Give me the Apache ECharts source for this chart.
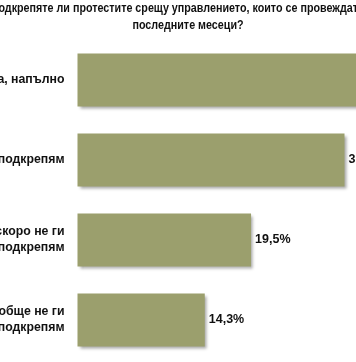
<!DOCTYPE html>
<html>
<head>
<meta charset="utf-8">
<script src="https://cdn.jsdelivr.net/npm/echarts@6/dist/echarts.min.js"></script>
<style>
html,body{margin:0;padding:0;background:#fff;}
#chart{width:356px;height:362px;}
</style>
</head>
<body>
<div id="chart"></div>
<script>
const titleLines = ["Подкрепяте ли протестите срещу управлението, които се провеждат през", "последните месеци?"];
const categories = ["Да, напълно", "По-скоро подкрепям", "По-скоро не ги\nподкрепям", "Изобще не ги\nподкрепям"];
const values = [36.1, 30.0, 19.5, 14.3];

const FONT = '"Liberation Sans", Arial, sans-serif';
const chart = echarts.init(document.getElementById('chart'));
chart.setOption({
  animation: false,
  backgroundColor: '#ffffff',
  graphic: [{
    type: 'text', x: 188, y: 0, scaleX: 0.795,
    style: {
      text: titleLines.join('\n'),
      textAlign: 'center',
      fontSize: 13.5,
      fontWeight: 'bold',
      fontFamily: FONT,
      lineHeight: 17,
      fill: '#111111'
    }
  }],
  grid: { left: 77.5, right: -77.5, top: 40, bottom: 2, containLabel: false, outerBoundsMode: 'none' },
  xAxis: {
    type: 'value', min: 0, max: 40, show: false
  },
  yAxis: {
    type: 'category', data: categories, inverse: true,
    axisLine: { show: false }, axisTick: { show: false }, splitLine: { show: false },
    axisLabel: {
      margin: 13, color: '#111111', fontFamily: FONT, fontWeight: 'bold', fontSize: 12.3,
      lineHeight: 16, align: 'right'
    }
  },
  series: [{
    type: 'bar', data: values, barWidth: 53,
    itemStyle: {
      color: '#9b9f6d',
      shadowColor: 'rgba(0,0,0,0.35)', shadowBlur: 3, shadowOffsetX: 2, shadowOffsetY: 2
    },
    label: {
      show: true, position: 'right', distance: 4, color: '#111111',
      fontFamily: FONT, fontWeight: 'bold', fontSize: 12.5,
      formatter: p => p.value.toFixed(1).replace('.', ',') + '%'
    }
  }]
});
</script>
</body>
</html>
